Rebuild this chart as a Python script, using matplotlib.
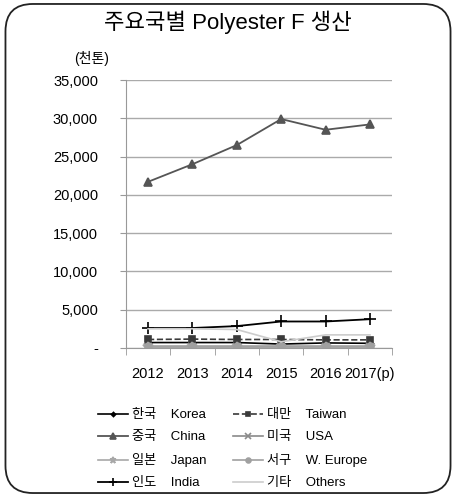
import matplotlib
matplotlib.use("Agg")
import matplotlib.pyplot as plt
import matplotlib.ticker as mticker
from matplotlib.patches import FancyBboxPatch

plt.rcParams['font.family'] = ['Liberation Sans', 'Noto Sans CJK KR', 'DejaVu Sans']

# --- Data (천톤)
years = ['2012', '2013', '2014', '2015', '2016', '2017(p)']
korea = [700, 700, 700, 500, 650, 600]
taiwan = [1100, 1150, 1100, 1100, 1050, 1050]
china = [21700, 24000, 26500, 29900, 28500, 29200]
usa = [150, 150, 150, 150, 150, 150]
japan = [100, 100, 100, 100, 100, 100]
w_europe = [300, 300, 300, 300, 300, 300]
india = [2600, 2600, 2850, 3450, 3450, 3750]
others = [2500, 2500, 2400, 800, 1700, 1700]

series_names = [('한국', 'Korea'), ('대만', 'Taiwan'), ('중국', 'China'), ('미국', 'USA'),
                ('일본', 'Japan'), ('서구', 'W. Europe'), ('인도', 'India'), ('기타', 'Others')]
# ---

fig = plt.figure(figsize=(4.56, 4.97), dpi=100)

# rounded frame round the whole chart
frame = FancyBboxPatch((0.012, 0.008), 0.976, 0.984, boxstyle="round,pad=0,rounding_size=0.06",
                       transform=fig.transFigure, facecolor='none', edgecolor='#222222',
                       linewidth=1.3, mutation_aspect=456 / 497, zorder=10)
fig.patches.append(frame)

ax = fig.add_axes([0.276, 0.300, 0.584, 0.539])
x = list(range(len(years)))

styles = [
    dict(data=korea, color='black', marker='D', ms=3, ls='-', lw=1.2),
    dict(data=taiwan, color='#3a3a3a', marker='s', ms=5, ls='--', lw=1.2),
    dict(data=china, color='#555555', marker='^', ms=6, ls='-', lw=1.3),
    dict(data=usa, color='#8a8a8a', marker='x', ms=6, ls='-', lw=1.2),
    dict(data=japan, color='#a8a8a8', marker='*', ms=7, ls='-', lw=1.2),
    dict(data=w_europe, color='#a0a0a0', marker='o', ms=5, ls='-', lw=1.2),
    dict(data=india, color='black', marker='+', ms=8, ls='-', lw=1.3),
    dict(data=others, color='#cccccc', marker=None, ms=0, ls='-', lw=1.2),
]

handles = []
labels = []
for st, (ko, en) in zip(styles, series_names):
    h, = ax.plot(x, st['data'], color=st['color'], marker=st['marker'], markersize=st['ms'],
                 linestyle=st['ls'], linewidth=st['lw'], markeredgewidth=1.2)
    handles.append(h)
    labels.append(ko + '    ' + en)

ax.set_xlim(-0.5, len(years) - 0.5)
ax.set_ylim(0, 35000)
ax.yaxis.set_major_locator(mticker.MultipleLocator(5000))
ax.yaxis.set_major_formatter(mticker.FuncFormatter(lambda v, p: '-' if v == 0 else '{:,.0f}'.format(v)))
ax.grid(axis='y', color='#aaaaaa', linewidth=1)
ax.set_axisbelow(True)
for s in ['top', 'right']:
    ax.spines[s].set_visible(False)
ax.spines['left'].set_color('#999999')
ax.spines['bottom'].set_color('#999999')

ax.set_xticks(x)
ax.set_xticklabels(years, fontsize=10.5)
ax.xaxis.set_minor_locator(mticker.FixedLocator([i - 0.5 for i in range(len(years) + 1)]))
ax.tick_params(axis='x', which='major', length=0, pad=14)
ax.tick_params(axis='x', which='minor', length=5, color='#999999')
ax.tick_params(axis='y', length=4, color='#999999', labelsize=10.5, pad=16)

fig.text(0.5, 0.955, '주요국별 Polyester F 생산', ha='center', va='center', fontsize=16)
fig.text(0.2, 0.883, '(천톤)', ha='center', va='center', fontsize=10)

# legend order: column 1 Korea, China, Japan, India; column 2 Taiwan, USA, W.Europe, Others
order = [0, 2, 4, 6, 1, 3, 5, 7]
fig.legend([handles[i] for i in order], [labels[i] for i in order], ncol=2,
           loc='center', bbox_to_anchor=(0.51, 0.096), frameon=False, fontsize=9.5,
           handlelength=2.3, columnspacing=2.0, labelspacing=0.75, handletextpad=0.3,
           markerscale=0.7)

fig.savefig('out.png', dpi=100)
